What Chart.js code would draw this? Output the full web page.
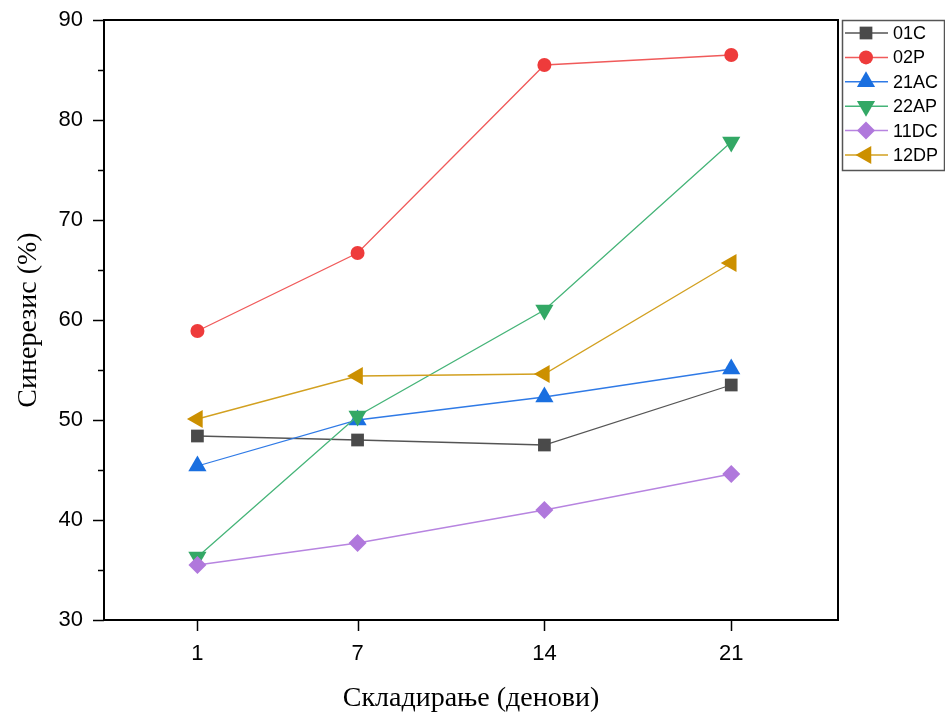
<!DOCTYPE html>
<html>
<head>
<meta charset="utf-8">
<script src="https://cdn.jsdelivr.net/npm/chart.js@4/dist/chart.umd.min.js"></script>
<style>
  html, body { margin: 0; padding: 0; background: #fff; }
  #wrap { width: 945px; height: 715px; }
</style>
</head>
<body>
<div id="wrap"><canvas id="c" width="945" height="715"></canvas></div>
<script>
// data
const days = [1, 7, 14, 21];
const xTicks = [1, 7, 14, 21];
const seriesNames = ['01C', '02P', '21AC', '22AP', '11DC', '12DP'];
const v01C  = [48.4, 48.0, 47.5, 53.5];
const v02P  = [58.9, 66.7, 85.5, 86.5];
const v21AC = [45.4, 50.0, 52.3, 55.1];
const v22AP = [36.3, 50.4, 61.0, 77.8];
const v11DC = [35.5, 37.7, 41.0, 44.6];
const v12DP = [50.1, 54.4, 54.6, 65.7];

const seriesValues = [v01C, v02P, v21AC, v22AP, v11DC, v12DP];
const markerColors = ['#4a4a4a', '#ee3b3b', '#1a6fe0', '#33a865', '#b078dc', '#cc9000'];
const lineColors   = ['#555555', '#f05a5a', '#2f7ae6', '#45b478', '#b784e0', '#d2a020'];
const shapes = ['rect', 'circle', 'triangle', 'triangle', 'rectRot', 'triangle'];
const rotations = [0, 0, 0, 180, 0, -90];
const radii = [9, 7, 10.5, 10.5, 9, 10.5];

const datasets = seriesNames.map((name, i) => ({
    label: name,
    data: days.map((d, j) => ({ x: d, y: seriesValues[i][j] })),
    borderColor: lineColors[i],
    backgroundColor: markerColors[i],
    pointBackgroundColor: markerColors[i],
    pointBorderColor: markerColors[i],
    pointBorderWidth: 0,
    pointStyle: shapes[i],
    rotation: rotations[i],
    pointRadius: radii[i],
    borderWidth: 1.3,
    tension: 0,
    order: seriesNames.length - 1 - i
}));

// frame, outward ticks and the boxed legend
const frameAndLegend = {
    id: 'frameAndLegend',
    afterDraw(chart) {
        const ctx = chart.ctx;
        const a = chart.chartArea;
        const xs = chart.scales.x, ys = chart.scales.y;
        ctx.save();
        ctx.strokeStyle = '#000';
        ctx.lineWidth = 2;
        ctx.strokeRect(a.left, a.top, a.right - a.left, a.bottom - a.top);

        ctx.lineWidth = 1.5;
        ctx.beginPath();
        for (let v = 30; v <= 90; v += 5) {
            const y = Math.round(ys.getPixelForValue(v)) + 0.5;
            const len = (v % 10 === 0) ? 11 : 6;
            ctx.moveTo(a.left, y);
            ctx.lineTo(a.left - len, y);
        }
        xTicks.forEach(t => {
            const x = Math.round(xs.getPixelForValue(t)) + 0.5;
            ctx.moveTo(x, a.bottom);
            ctx.lineTo(x, a.bottom + 11);
        });
        ctx.stroke();

        // legend box
        const lx = 842, ly = 20, lw = 102, lh = 150;
        ctx.lineWidth = 1.5;
        ctx.strokeStyle = '#555';
        ctx.strokeRect(lx + 0.5, ly + 0.5, lw, lh);
        ctx.font = '18px "Liberation Sans", Arial, sans-serif';
        ctx.textAlign = 'left';
        ctx.textBaseline = 'middle';
        chart.data.datasets.forEach((ds, i) => {
            const cy = 33 + i * 24.4;
            ctx.strokeStyle = ds.borderColor;
            ctx.lineWidth = 1.5;
            ctx.beginPath();
            ctx.moveTo(845, cy);
            ctx.lineTo(888, cy);
            ctx.stroke();
            ctx.fillStyle = ds.pointBackgroundColor;
            ctx.strokeStyle = ds.pointBackgroundColor;
            Chart.helpers.drawPoint(ctx, {
                pointStyle: ds.pointStyle,
                rotation: ds.rotation,
                radius: ds.pointRadius,
                borderWidth: 0
            }, 866, cy);
            ctx.fillStyle = '#000';
            ctx.fillText(ds.label, 893, cy + 1);
        });
        ctx.restore();
    }
};

new Chart(document.getElementById('c'), {
    type: 'line',
    data: { datasets },
    options: {
        responsive: false,
        animation: false,
        devicePixelRatio: 1,
        layout: { padding: { left: 0, right: 107, top: 20, bottom: 0 } },
        plugins: { legend: { display: false }, tooltip: { enabled: false } },
        scales: {
            x: {
                type: 'linear',
                min: -2.5,
                max: 25,
                afterFit: s => { s.height = 95; s.paddingLeft = 0; s.paddingRight = 0; },
                afterBuildTicks: s => { s.ticks = xTicks.map(v => ({ value: v })); },
                grid: { display: false },
                border: { display: false },
                ticks: {
                    padding: 13,
                    maxRotation: 0,
                    color: '#000',
                    font: { family: '"Liberation Sans", Arial', size: 22 }
                },
                title: {
                    display: true,
                    text: 'Складирање (денови)',
                    color: '#000',
                    padding: { top: 3, bottom: 0 },
                    font: { family: '"Liberation Serif", "Times New Roman", serif', size: 28 }
                }
            },
            y: {
                min: 30,
                max: 90,
                afterFit: s => { s.width = 104; s.paddingTop = 0; s.paddingBottom = 0; },
                grid: { display: false },
                border: { display: false },
                ticks: {
                    stepSize: 10,
                    padding: 13,
                    color: '#000',
                    font: { family: '"Liberation Sans", Arial', size: 22 }
                },
                title: {
                    display: true,
                    text: 'Синерезис (%)',
                    color: '#000',
                    padding: { top: 12, bottom: 0 },
                    font: { family: '"Liberation Serif", "Times New Roman", serif', size: 28 }
                }
            }
        }
    },
    plugins: [frameAndLegend]
});
</script>
</body>
</html>
